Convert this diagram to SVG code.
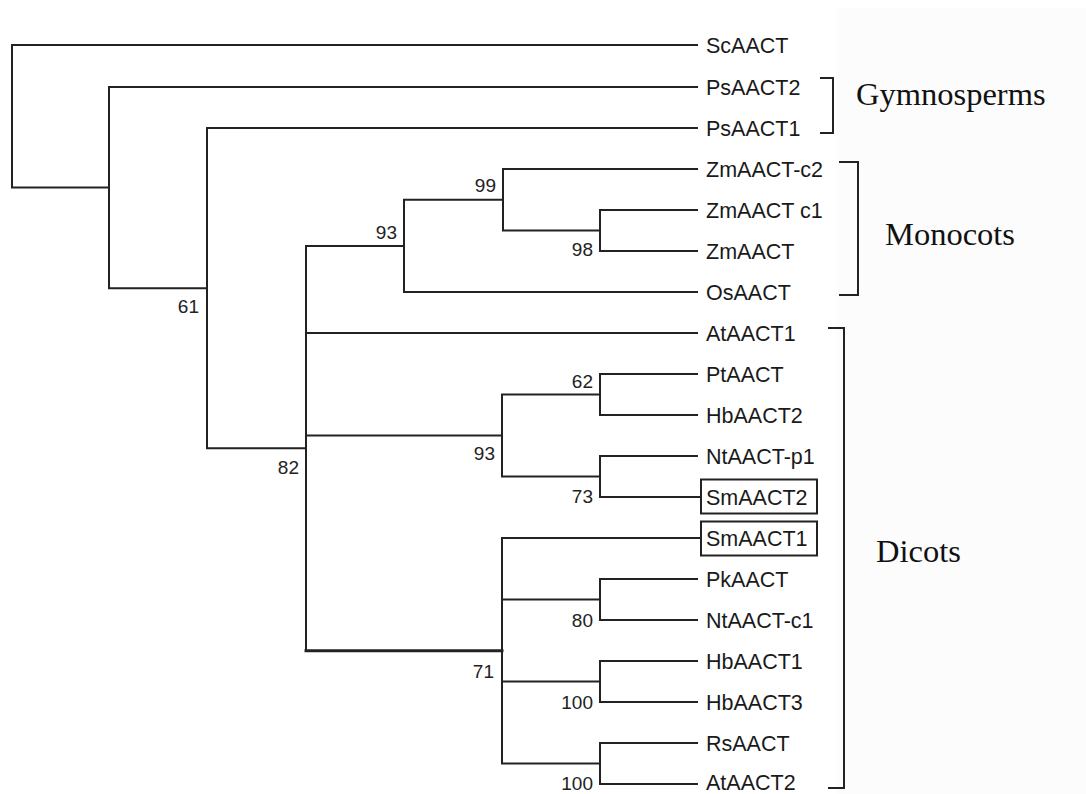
<svg xmlns="http://www.w3.org/2000/svg" width="1086" height="794" viewBox="0 0 1086 794">
<style>
.br{fill:none;stroke:#222;stroke-width:2;stroke-linecap:square}
.leaf{font-family:"Liberation Sans",Arial,sans-serif;font-size:21.5px;fill:#1a1a1a}
.bs{font-family:"Liberation Sans",Arial,sans-serif;font-size:19px;fill:#222;text-anchor:end}
.grp{font-family:"Liberation Serif","Times New Roman",serif;font-size:32.5px;fill:#111}
.box{fill:none;stroke:#222;stroke-width:2}
</style>
<rect width="1086" height="794" fill="#ffffff"/>
<rect x="836" y="8" width="250" height="786" fill="#fcfcfc"/>
<g id="connectors" class="br">
<path d="M12,45 V187.6 M12,45 H697 M12,187.6 H109"/>
<path d="M109,87 V288.2 M109,87 H697 M109,288.2 H207"/>
<path d="M207,128 V448.3 M207,128 H697 M207,448.3 H306"/>
<path d="M306,245.9 V650.75 M306,245.9 H404 M306,333 H697 M306,435.5 H502"/>
<path d="M306,650.75 H502" stroke-width="3"/>
<path d="M404,199.75 V292 M404,199.75 H503 M404,292 H697"/>
<path d="M503,169 V230.5 M503,169 H697 M503,230.5 H600"/>
<path d="M600,210 V251 M600,210 H697 M600,251 H697"/>
<path d="M502,394.5 V476.5 M502,394.5 H600 M502,476.5 H600"/>
<path d="M600,374 V415 M600,374 H697 M600,415 H697"/>
<path d="M600,456 V497 M600,456 H697 M600,497 H701"/>
<path d="M502,538 V763.5 M502,538 H701 M502,599.5 H600 M502,681.5 H600 M502,763.5 H600"/>
<path d="M600,579 V620 M600,579 H697 M600,620 H697"/>
<path d="M600,661 V702 M600,661 H697 M600,702 H697"/>
<path d="M600,743 V784 M600,743 H697 M600,784 H697"/>
</g>
<g id="bootstrap">
<text class="bs" x="199" y="313">61</text>
<text class="bs" x="397" y="239">93</text>
<text class="bs" x="496" y="192">99</text>
<text class="bs" x="593" y="256">98</text>
<text class="bs" x="593" y="388">62</text>
<text class="bs" x="495" y="460">93</text>
<text class="bs" x="593" y="503">73</text>
<text class="bs" x="299" y="474">82</text>
<text class="bs" x="593" y="627">80</text>
<text class="bs" x="494" y="678">71</text>
<text class="bs" x="593" y="709">100</text>
<text class="bs" x="593" y="790">100</text>
</g>
<g id="leaves">
<g id="n-ScAACT"><text class="leaf" x="706" y="52.5">ScAACT</text></g>
<g id="n-PsAACT2"><text class="leaf" x="706" y="94.5">PsAACT2</text></g>
<g id="n-PsAACT1"><text class="leaf" x="706" y="135.5">PsAACT1</text></g>
<g id="n-ZmAACT-c2"><text class="leaf" x="706" y="176.5">ZmAACT-c2</text></g>
<g id="n-ZmAACTc1"><text class="leaf" x="706" y="217.5">ZmAACT c1</text></g>
<g id="n-ZmAACT"><text class="leaf" x="706" y="258.5">ZmAACT</text></g>
<g id="n-OsAACT"><text class="leaf" x="706" y="299.5">OsAACT</text></g>
<g id="n-AtAACT1"><text class="leaf" x="706" y="340.5">AtAACT1</text></g>
<g id="n-PtAACT"><text class="leaf" x="706" y="381.5">PtAACT</text></g>
<g id="n-HbAACT2"><text class="leaf" x="706" y="422.5">HbAACT2</text></g>
<g id="n-NtAACT-p1"><text class="leaf" x="706" y="463.5">NtAACT-p1</text></g>
<g id="n-SmAACT2"><rect class="box" x="701" y="479.5" width="116" height="34"/><text class="leaf" x="706" y="504.5">SmAACT2</text></g>
<g id="n-SmAACT1"><rect class="box" x="701" y="521.5" width="116" height="34"/><text class="leaf" x="706" y="545.5">SmAACT1</text></g>
<g id="n-PkAACT"><text class="leaf" x="706" y="586.5">PkAACT</text></g>
<g id="n-NtAACT-c1"><text class="leaf" x="706" y="627.5">NtAACT-c1</text></g>
<g id="n-HbAACT1"><text class="leaf" x="706" y="668.5">HbAACT1</text></g>
<g id="n-HbAACT3"><text class="leaf" x="706" y="709.5">HbAACT3</text></g>
<g id="n-RsAACT"><text class="leaf" x="706" y="750.5">RsAACT</text></g>
<g id="n-AtAACT2"><text class="leaf" x="706" y="790">AtAACT2</text></g>
</g>
<g id="groups">
<g id="g-gymno"><path class="br" d="M821,78 H833 V133 H821"/><text class="grp" x="856" y="105">Gymnosperms</text></g>
<g id="g-mono"><path class="br" d="M840,162 H858 V295 H840"/><text class="grp" x="885" y="245">Monocots</text></g>
<g id="g-di"><path class="br" d="M829,328 H844 V788 H829"/><text class="grp" x="876" y="562">Dicots</text></g>
</g>
</svg>
